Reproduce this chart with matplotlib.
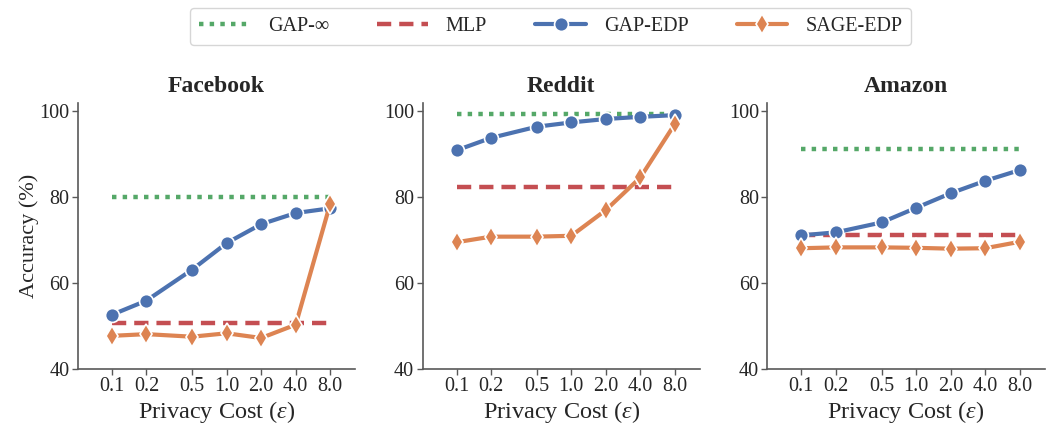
import matplotlib
matplotlib.use("Agg")
import matplotlib.pyplot as plt
import seaborn as sns
import numpy as np

sns.set_theme(style="ticks", palette="deep")
plt.rcParams['font.family'] = ['Liberation Serif', 'DejaVu Serif']
plt.rcParams['mathtext.fontset'] = 'custom'
plt.rcParams['mathtext.it'] = 'Liberation Serif:italic'
plt.rcParams['mathtext.rm'] = 'Liberation Serif'

eps = [0.1, 0.2, 0.5, 1.0, 2.0, 4.0, 8.0]
eps_labels = ['0.1', '0.2', '0.5', '1.0', '2.0', '4.0', '8.0']
datasets = ['Facebook', 'Reddit', 'Amazon']

gap_inf = {'Facebook': 80.0, 'Reddit': 99.4, 'Amazon': 91.2}
mlp = {'Facebook': 50.8, 'Reddit': 82.4, 'Amazon': 71.1}
gap_edp = {
    'Facebook': [52.6, 55.9, 63.1, 69.3, 73.7, 76.3, 77.4],
    'Reddit': [90.9, 93.8, 96.4, 97.4, 98.2, 98.7, 99.1],
    'Amazon': [71.1, 71.8, 74.1, 77.5, 80.9, 83.8, 86.3],
}
sage_edp = {
    'Facebook': [47.7, 48.1, 47.5, 48.3, 47.2, 50.3, 78.5],
    'Reddit': [69.5, 70.8, 70.8, 71.0, 77.0, 84.6, 97.1],
    'Amazon': [68.1, 68.3, 68.3, 68.2, 68.0, 68.1, 69.6],
}

pal = sns.color_palette("deep")
blue, orange, green, red = pal[0], pal[1], pal[2], pal[3]

fig = plt.figure(figsize=(10.51, 4.26), dpi=100)
lefts = [0.074, 0.402, 0.730]
axes = [fig.add_axes([l, 0.134, 0.264, 0.624]) for l in lefts]

for ax, name in zip(axes, datasets):
    n = len(eps)
    ax.plot(eps, [gap_inf[name]] * n, ls=(0, (1, 1.4)), lw=3.2, color=green, label='GAP-∞', zorder=2)
    ax.plot(eps, [mlp[name]] * n, ls=(0, (3.2, 1.8)), lw=3.2, color=red, label='MLP', zorder=2)
    ax.plot(eps, gap_edp[name], '-o', lw=3, ms=10, color=blue, mec='white', mew=1.2, label='GAP-EDP', zorder=3)
    ax.plot(eps, sage_edp[name], '-d', lw=3, ms=10, color=orange, mec='white', mew=1.2, label='SAGE-EDP', zorder=3)
    ax.set_xscale('log')
    ax.set_xlim(0.0505, 13.2)
    ax.set_xticks(eps)
    ax.set_xticklabels(eps_labels)
    ax.minorticks_off()
    ax.set_ylim(40, 101.9)
    ax.set_yticks([40, 60, 80, 100])
    ax.tick_params(labelsize=14.5, length=4, width=1, pad=2, color='0.35', labelcolor='0.15')
    ax.set_title(name, fontsize=17, fontweight='bold', pad=8)
    ax.set_xlabel(r'Privacy Cost ($\varepsilon$)', fontsize=17.5, labelpad=2)
    sns.despine(ax=ax)
    for s in ['left', 'bottom']:
        ax.spines[s].set_linewidth(1.2)
        ax.spines[s].set_color('0.35')

axes[0].set_ylabel('Accuracy (%)', fontsize=16, labelpad=0)

h, l = axes[0].get_legend_handles_labels()
fig.legend(h, l, loc='upper center', bbox_to_anchor=(0.524, 1.005), ncol=4, fontsize=14.5,
           frameon=True, handlelength=2.5, handletextpad=0.9, columnspacing=2.4, borderpad=0.45)

fig.savefig('out.png', dpi=100)
